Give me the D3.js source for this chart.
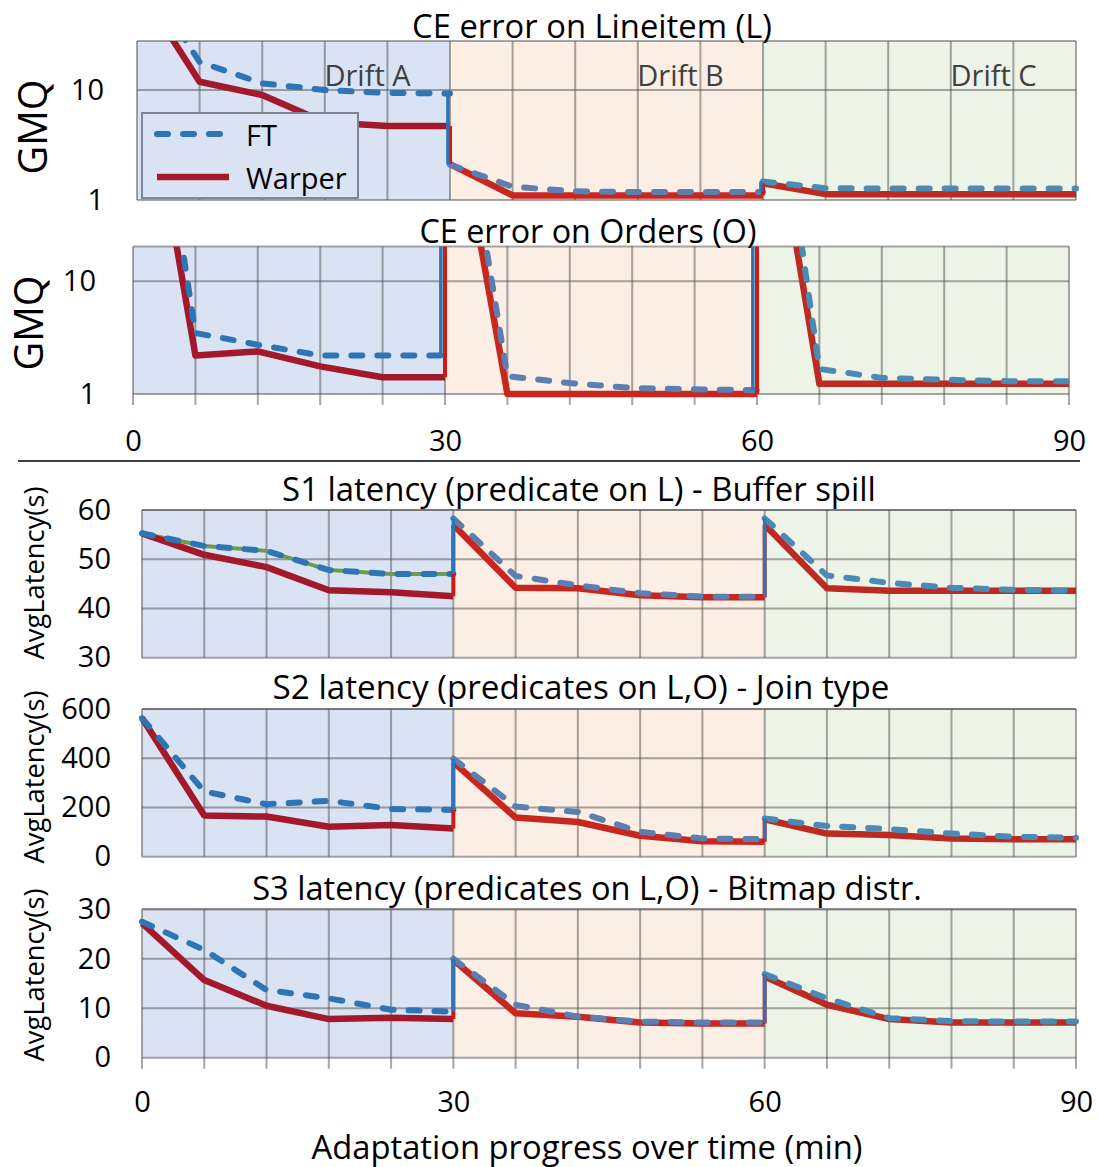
<!DOCTYPE html>
<html>
<head>
<meta charset="utf-8">
<script src="https://cdn.jsdelivr.net/npm/d3@7"></script>
<style>
  body { margin: 0; background: #fff; }
  text { font-family: "Open Sans", Lato, sans-serif; }
</style>
</head>
<body>
<svg id="chart" width="1097" height="1167"></svg>
<script>
// minutes of each drift segment (a jump happens at 30 and 60)
var segMinutes = [[0, 6, 12, 18, 24, 30], [30, 36, 42, 48, 54, 60], [60, 66, 72, 78, 84, 90]];
var gridMinutes = [0, 6, 12, 18, 24, 30, 36, 42, 48, 54, 60, 66, 72, 78, 84, 90];
var xLabelMinutes = [0, 30, 60, 90];
var driftNames = ["Drift A", "Drift B", "Drift C"];
var driftStart = [0, 30, 60];
var seriesNames = ["FT", "Warper"];

// CE error on Lineitem (GMQ, log)
var lineitemFT     = [[136, 18, 11.5, 10, 9.4, 9.3], [2.1, 1.32, 1.2, 1.18, 1.18, 1.18], [1.47, 1.28, 1.27, 1.27, 1.27, 1.27]];
var lineitemWarper = [[92, 11.9, 9.0, 5.1, 4.7, 4.7], [2.12, 1.1, 1.1, 1.1, 1.1, 1.1], [1.42, 1.13, 1.13, 1.13, 1.13, 1.13]];
var lineitemTicks = [1, 10];

// CE error on Orders (GMQ, log)
var ordersFT     = [[15000, 3.48, 2.74, 2.2, 2.2, 2.2], [3400, 1.44, 1.25, 1.13, 1.1, 1.08], [12000, 1.67, 1.39, 1.34, 1.3, 1.3]];
var ordersWarper = [[3700, 2.2, 2.39, 1.76, 1.41, 1.41], [1230, 1.0, 1.0, 1.0, 1.0, 1.0], [2600, 1.23, 1.23, 1.23, 1.23, 1.23]];
var ordersTicks = [1, 10];

// S1 latency (s)
var s1FT     = [[55.25, 52.7, 51.7, 47.8, 47.0, 47.0], [58.3, 46.6, 44.7, 43.1, 42.4, 42.4], [58.3, 46.7, 45.2, 44.2, 43.8, 43.6]];
var s1Warper = [[55.25, 50.9, 48.4, 43.7, 43.3, 42.5], [57.0, 44.2, 44.1, 42.7, 42.3, 42.3], [57.0, 44.1, 43.6, 43.6, 43.6, 43.6]];
var s1Ticks = [30, 40, 50, 60];

// S2 latency (s)
var s2FT     = [[563, 265, 213, 227, 194, 190], [398, 204, 182, 101, 74, 71], [155, 125, 112, 94, 81, 77]];
var s2Warper = [[563, 167, 163, 122, 129, 115], [384, 159, 141, 85, 63, 61], [152, 94, 88, 74, 71, 71]];
var s2Ticks = [0, 200, 400, 600];

// S3 latency (s)
var s3FT     = [[27.5, 21.8, 13.7, 12.0, 9.7, 9.3], [20.0, 10.7, 8.3, 7.3, 7.1, 7.1], [16.9, 12.0, 8.0, 7.4, 7.3, 7.3]];
var s3Warper = [[27.2, 15.7, 10.5, 7.8, 8.1, 7.8], [19.8, 9.0, 8.3, 7.1, 6.9, 6.9], [16.4, 10.7, 7.8, 7.1, 7.1, 7.1]];
var s3Ticks = [0, 10, 20, 30];

var driftFill = ["#dae3f3", "#fbeee5", "#eef3e8"];
var ftColors = ["#2e75b6", "#5a7fb0", "#4a8bb6"];
var warperColors = ["#a3182b", "#c8271f", "#bd2a21"];

var svg = d3.select("#chart");

// shrink or grow a text so it spans the wanted width
function fitText (sel, width) {
    var size = +sel.attr("font-size");
    var w = sel.node().getComputedTextLength();
    if (w > 0) sel.attr("font-size", size * width / w);
}

function drawPanel (p) {

    var x = d3.scaleLinear().domain([0, 90]).range([p.left, p.right]);
    var y = (p.log ? d3.scaleLog() : d3.scaleLinear()).domain(p.domain).range([p.bottom, p.top]);
    var g = svg.append("g");

    // drift backgrounds
    g.selectAll("rect.drift")
        .data(driftStart)
        .join("rect")
            .attr("class", "drift")
            .attr("x", d => x(d))
            .attr("width", d => x(d + 30) - x(d))
            .attr("y", p.top)
            .attr("height", p.bottom - p.top)
            .attr("fill", (d, i) => driftFill[i]);

    // grid
    var grid = g.append("g")
        .attr("stroke", "#505050")
        .attr("stroke-opacity", 0.5)
        .attr("stroke-width", 2);

    grid.selectAll("line.v")
        .data(gridMinutes)
        .join("line")
            .attr("x1", d => x(d)).attr("x2", d => x(d))
            .attr("y1", p.top).attr("y2", p.xTicks ? p.bottom + 11 : p.bottom);

    grid.selectAll("line.h")
        .data(p.ticks)
        .join("line")
            .attr("x1", p.left).attr("x2", p.right)
            .attr("y1", d => y(d)).attr("y2", d => y(d));

    grid.append("line")
        .attr("x1", p.left).attr("x2", p.right)
        .attr("y1", p.top).attr("y2", p.top);

    // y tick labels
    var yAxis = g.append("g")
        .attr("transform", "translate(" + p.labelX + ",0)")
        .call(d3.axisLeft(y).tickValues(p.ticks).tickSize(0).tickPadding(0).tickFormat(d3.format("d")));
    yAxis.select(".domain").remove();
    yAxis.selectAll("text")
        .attr("font-size", 29)
        .attr("fill", "#000")
        .style("font-family", "'Open Sans', Lato, sans-serif");

    // x labels
    if (p.xTicks) {
        var xAxis = g.append("g")
            .attr("transform", "translate(0," + p.xLabelY + ")")
            .call(d3.axisBottom(x).tickValues(xLabelMinutes).tickSize(0).tickPadding(0));
        xAxis.select(".domain").remove();
        xAxis.selectAll("text")
            .attr("font-size", 29)
            .attr("fill", "#000")
            .attr("dy", "0.35em")
            .style("font-family", "'Open Sans', Lato, sans-serif");
    }

    // titles
    var title = g.append("text")
        .attr("x", p.titleX)
        .attr("y", p.titleY)
        .attr("text-anchor", "middle")
        .attr("dominant-baseline", "central")
        .attr("font-size", 30)
        .text(p.title);
    fitText(title, p.titleWidth);

    var yLabel = g.append("text")
        .attr("transform", "translate(" + p.yLabelX + "," + p.yLabelY + ") rotate(-90)")
        .attr("text-anchor", "middle")
        .attr("dominant-baseline", "central")
        .attr("font-size", 30)
        .text(p.yLabel);
    fitText(yLabel, p.yLabelWidth);

    // series lines, clipped at the top of the plot
    var clipId = "clip" + p.id;
    svg.append("clipPath").attr("id", clipId)
        .append("rect")
            .attr("x", p.left - 10)
            .attr("y", p.top)
            .attr("width", p.right - p.left + 20)
            .attr("height", p.bottom - p.top + 10);

    var lines = g.append("g").attr("clip-path", "url(#" + clipId + ")");
    var line = d3.line().x(d => x(d[0])).y(d => y(d[1]));

    if (p.green) {
        lines.append("path")
            .attr("d", line(segMinutes[0].map((m, j) => [m, p.ft[0][j]])))
            .attr("fill", "none")
            .attr("stroke", "#6f9c4c")
            .attr("stroke-width", 4);
    }

    segMinutes.forEach((mins, i) => {
        lines.append("path")
            .attr("d", line(mins.map((m, j) => [m, p.warper[i][j]])))
            .attr("fill", "none")
            .attr("stroke", warperColors[i])
            .attr("stroke-width", 6.5)
            .attr("stroke-linejoin", "round");
    });

    segMinutes.forEach((mins, i) => {
        lines.append("path")
            .attr("d", line(mins.map((m, j) => [m, p.ft[i][j]])))
            .attr("fill", "none")
            .attr("stroke", ftColors[i])
            .attr("stroke-width", 6)
            .attr("stroke-linecap", "round")
            .attr("stroke-dasharray", "11 15");
    });

    // jumps between drifts
    [0, 1].forEach(i => {
        var m = segMinutes[i + 1][0];
        lines.append("path")
            .attr("d", line([[m, p.warper[i][5]], [m, p.warper[i + 1][0]]]))
            .attr("stroke", "#cc1a14")
            .attr("stroke-width", 4);
        lines.append("path")
            .attr("d", line([[m - p.ftShift, p.ft[i][5]], [m - p.ftShift, p.ft[i + 1][0]]]))
            .attr("stroke", "#2e75b6")
            .attr("stroke-width", 3.5);
    });

    return { x: x, y: y, g: g };
}

var p1 = drawPanel({
    id: 1, left: 137, right: 1076, top: 41, bottom: 200, log: true, domain: [1, 27.9],
    ticks: lineitemTicks, labelX: 104, ft: lineitemFT, warper: lineitemWarper, ftShift: 0.2,
    title: "CE error on Lineitem (L)", titleX: 592, titleY: 25, titleWidth: 360,
    yLabel: "GMQ", yLabelX: 32, yLabelY: 127, yLabelWidth: 95
});

drawPanel({
    id: 2, left: 133, right: 1069, top: 246.5, bottom: 394, log: true, domain: [1, 20.4],
    ticks: ordersTicks, labelX: 96, ft: ordersFT, warper: ordersWarper, ftShift: 0.4,
    title: "CE error on Orders (O)", titleX: 588, titleY: 230, titleWidth: 337,
    yLabel: "GMQ", yLabelX: 28, yLabelY: 323, yLabelWidth: 95,
    xTicks: true, xLabelY: 441
});

drawPanel({
    id: 3, left: 142, right: 1076, top: 510, bottom: 657.7, domain: [30, 60],
    ticks: s1Ticks, labelX: 111, ft: s1FT, warper: s1Warper, ftShift: 0, green: true,
    title: "S1 latency (predicate on L) - Buffer spill", titleX: 579, titleY: 488, titleWidth: 594,
    yLabel: "AvgLatency(s)", yLabelX: 33, yLabelY: 573, yLabelWidth: 173
});

drawPanel({
    id: 4, left: 142, right: 1076, top: 709, bottom: 856.7, domain: [0, 600],
    ticks: s2Ticks, labelX: 111, ft: s2FT, warper: s2Warper, ftShift: 0,
    title: "S2 latency (predicates on L,O) - Join type", titleX: 581, titleY: 686, titleWidth: 617,
    yLabel: "AvgLatency(s)", yLabelX: 33, yLabelY: 777, yLabelWidth: 173
});

drawPanel({
    id: 5, left: 142, right: 1076, top: 909.3, bottom: 1057.7, domain: [0, 30],
    ticks: s3Ticks, labelX: 111, ft: s3FT, warper: s3Warper, ftShift: 0,
    title: "S3 latency (predicates on L,O) - Bitmap distr.", titleX: 587, titleY: 887, titleWidth: 670,
    yLabel: "AvgLatency(s)", yLabelX: 33, yLabelY: 975, yLabelWidth: 173,
    xTicks: true, xLabelY: 1102
});

// drift labels on the first panel
p1.g.selectAll("text.drift")
    .data(driftNames)
    .join("text")
        .attr("class", "drift")
        .attr("x", (d, i) => p1.x(driftStart[i] + 22.1))
        .attr("y", 74)
        .attr("text-anchor", "middle")
        .attr("dominant-baseline", "central")
        .attr("font-size", 29)
        .attr("fill", "#404040")
        .text(d => d);

// legend
var legend = svg.append("g");
legend.append("rect")
    .attr("x", 142).attr("y", 113)
    .attr("width", 216).attr("height", 85)
    .attr("fill", "#dae3f3")
    .attr("stroke", "#7f8794")
    .attr("stroke-width", 2);

seriesNames.forEach((name, i) => {
    var ly = 134 + i * 43;
    legend.append("line")
        .attr("x1", 157).attr("x2", 229)
        .attr("y1", ly).attr("y2", ly)
        .attr("stroke", i == 0 ? ftColors[0] : warperColors[0])
        .attr("stroke-width", i == 0 ? 6 : 6.5)
        .attr("stroke-linecap", i == 0 ? "round" : "butt")
        .attr("stroke-dasharray", i == 0 ? "11 15" : null);
    legend.append("text")
        .attr("x", 246).attr("y", ly)
        .attr("dominant-baseline", "central")
        .attr("font-size", 29)
        .text(name);
});

// separator and x title
svg.append("line")
    .attr("x1", 18).attr("x2", 1080)
    .attr("y1", 461).attr("y2", 461)
    .attr("stroke", "#000")
    .attr("stroke-width", 1.5);

var xTitle = svg.append("text")
    .attr("x", 587).attr("y", 1146)
    .attr("text-anchor", "middle")
    .attr("dominant-baseline", "central")
    .attr("font-size", 30)
    .text("Adaptation progress over time (min)");
fitText(xTitle, 551);
</script>
</body>
</html>
